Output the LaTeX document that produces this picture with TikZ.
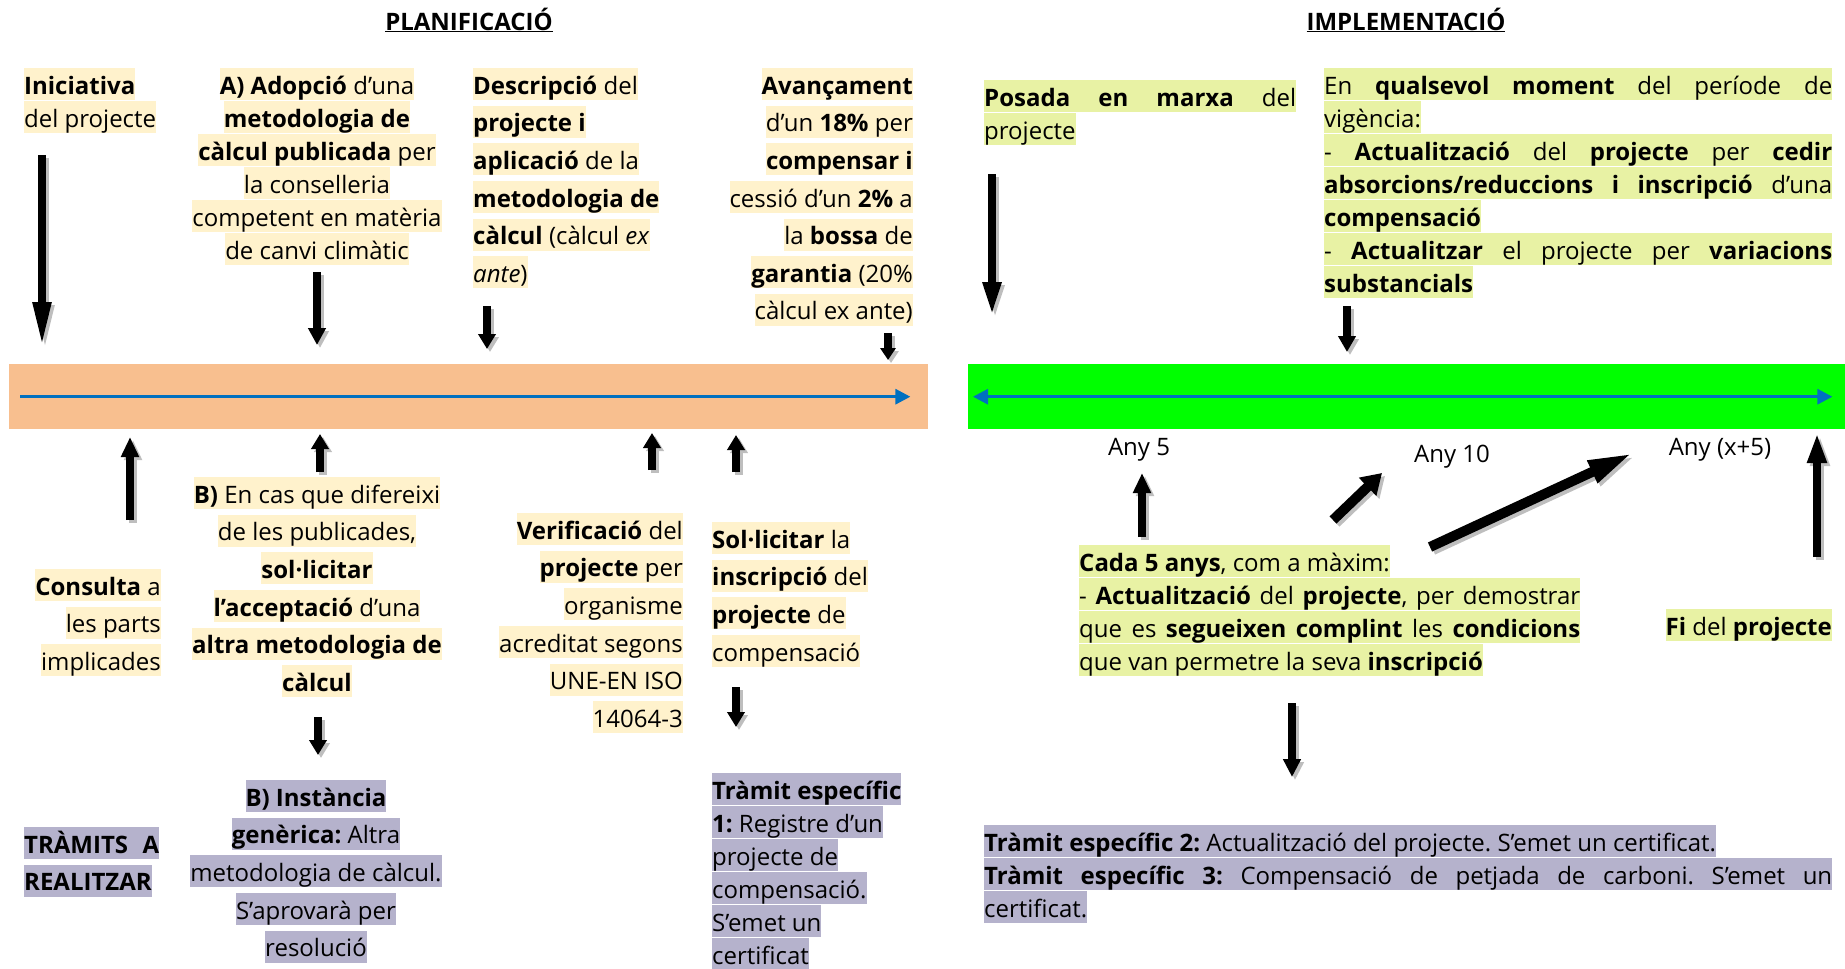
\documentclass[tikz,border=0pt]{standalone}
\usepackage{fontspec}
\setmainfont{Open Sans}
\usepackage{tikz}
\usetikzlibrary{arrows.meta,positioning}
\frenchspacing

\definecolor{hlcream}{RGB}{255,242,204}
\definecolor{hlgreen}{RGB}{232,242,164}
\definecolor{hllilac}{RGB}{181,178,204}
\definecolor{barpeach}{RGB}{248,191,143}
\definecolor{bargreen}{RGB}{0,255,0}
\definecolor{tlblue}{RGB}{0,112,192}
\definecolor{shadegray}{RGB}{190,190,190}

\newcommand{\hlx}[2]{{\setlength{\fboxsep}{0pt}\colorbox{#1}{\rule[-6pt]{0pt}{32pt}#2}}}
\newcommand{\hlc}[1]{\hlx{hlcream}{#1}}
\newcommand{\hlg}[1]{\hlx{hlgreen}{#1}}
\newcommand{\hlp}[1]{\hlx{hllilac}{#1}}
\newcommand{\just}[2]{\makebox[#1][s]{#2}}

\begin{document}
\begin{tikzpicture}[x=1pt,y=-1pt,
    every node/.style={inner sep=0pt,font=\fontsize{24}{33}\selectfont},
    wide/.style={font=\fontsize{24}{37.6}\selectfont},
    blk/.style 2 args={draw=black,line width=8pt,-{Triangle[length=#1,width=#2]},
      preaction={draw=shadegray,line width=8pt,-{Triangle[length=#1,width=#2]},
        transform canvas={shift={(3pt,-3pt)}}}},
    dgl/.style 2 args={draw=black,line width=10pt,-{Triangle[length=#1,width=#2]},
      preaction={draw=shadegray,line width=10pt,-{Triangle[length=#1,width=#2]},
        transform canvas={shift={(3pt,-3pt)}}}},
    tl/.style={draw=tlblue,line width=3pt}]
\useasboundingbox (0,0) rectangle (1845,969);

% titles
\node[anchor=base] (tplan) at (469,30) {\textbf{\underline{PLANIFICACIÓ}}};
\node[anchor=base] (timpl) at (1406,30) {\textbf{\underline{IMPLEMENTACIÓ}}};

% timelines
\node[fill=barpeach,minimum width=919pt,minimum height=65pt,anchor=north west] (plan) at (9,364) {};
\node[fill=bargreen,minimum width=877pt,minimum height=65pt,anchor=north west] (impl) at (968,364) {};
\draw[tl,-{Triangle[length=15pt,width=15pt]}] ([xshift=11pt]plan.west) -- ([xshift=-18pt]plan.east);
\draw[tl,{Triangle[length=15pt,width=15pt]}-{Triangle[length=15pt,width=15pt]}]
  ([xshift=5pt]impl.west) -- ([xshift=-13pt]impl.east);

% planificacio, above
\node[align=left,anchor=north west] (ini) at (24,68)
  {\hlc{\textbf{Iniciativa}}\\ \hlc{del projecte}};
\node[align=center,anchor=north] (adop) at (317,68)
  {\hlc{\textbf{A) Adopció} d’una}\\ \hlc{\textbf{metodologia de}}\\
   \hlc{\textbf{càlcul publicada} per}\\ \hlc{la conselleria}\\
   \hlc{competent en matèria}\\ \hlc{de canvi climàtic}};
\node[wide,align=left,anchor=north west] (desc) at (473,68)
  {\hlc{\textbf{Descripció} del}\\ \hlc{\textbf{projecte i}}\\ \hlc{\textbf{aplicació} de la}\\
   \hlc{\textbf{metodologia de}}\\ \hlc{\textbf{càlcul} (càlcul \textit{ex}}\\ \hlc{\textit{ante})}};
\node[wide,align=right,anchor=north east] (avan) at (913,68)
  {\hlc{\textbf{Avançament}}\\ \hlc{d’un \textbf{18\%} per}\\ \hlc{\textbf{compensar i}}\\
   \hlc{cessió d’un \textbf{2\%} a}\\ \hlc{la \textbf{bossa} de}\\ \hlc{\textbf{garantia} (20\%}\\
   \hlc{càlcul ex ante)}};

% planificacio, below
\node[wide,align=right,anchor=north east] (cons) at (161,569)
  {\hlc{\textbf{Consulta} a}\\ \hlc{les parts}\\ \hlc{implicades}};
\node[wide,align=center,anchor=north] (difer) at (317,477)
  {\hlc{\textbf{B)} En cas que difereixi}\\ \hlc{de les publicades,}\\ \hlc{\textbf{sol·licitar}}\\
   \hlc{\textbf{l’acceptació} d’una}\\ \hlc{\textbf{altra metodologia de}}\\ \hlc{\textbf{càlcul}}};
\node[wide,align=right,anchor=north east] (verif) at (683,513)
  {\hlc{\textbf{Verificació} del}\\ \hlc{\textbf{projecte} per}\\ \hlc{organisme}\\
   \hlc{acreditat segons}\\ \hlc{UNE-EN ISO}\\ \hlc{14064-3}};
\node[wide,align=left,anchor=north west] (sol) at (712,522)
  {\hlc{\textbf{Sol·licitar} la}\\ \hlc{\textbf{inscripció} del}\\ \hlc{\textbf{projecte} de}\\
   \hlc{compensació}};

% tramits
\node[wide,align=left,anchor=north west] (tram) at (24,827)
  {\hlp{\just{135pt}{\bfseries TRÀMITS A}}\\ \hlp{\textbf{REALITZAR}}};
\node[wide,align=center,anchor=north] (inst) at (316,780)
  {\hlp{\textbf{B) Instància}}\\ \hlp{\textbf{genèrica:} Altra}\\ \hlp{metodologia de càlcul.}\\
   \hlp{S’aprovarà per}\\ \hlp{resolució}};
\node[align=left,anchor=north west] (t1) at (712,773)
  {\hlp{\textbf{Tràmit específic}}\\ \hlp{\textbf{1:} Registre d’un}\\ \hlp{projecte de}\\
   \hlp{compensació.}\\ \hlp{S’emet un}\\ \hlp{certificat}};

% implementacio
\node[align=left,anchor=north west] (posada) at (984,80)
  {\hlg{\just{312pt}{\textbf{Posada en marxa} del}}\\ \hlg{projecte}};
\node[align=left,anchor=north west] (qual) at (1324,68)
  {\hlg{\just{508pt}{En \textbf{qualsevol moment} del període de}}\\ \hlg{vigència:}\\
   \hlg{\just{508pt}{- \textbf{Actualització} del \textbf{projecte} per \textbf{cedir}}}\\
   \hlg{\just{508pt}{\textbf{absorcions/reduccions i inscripció} d’una}}\\
   \hlg{\textbf{compensació}}\\
   \hlg{\just{508pt}{- \textbf{Actualitzar} el projecte per \textbf{variacions}}}\\
   \hlg{\textbf{substancials}}};
\node[anchor=base] (any5) at (1139,455) {Any 5};
\node[anchor=base] (any10) at (1452,462) {Any 10};
\node[anchor=base] (anyx) at (1720,455) {Any (x+5)};
\node[align=left,anchor=north west] (cada) at (1079,545)
  {\hlg{\textbf{Cada 5 anys}, com a màxim:}\\
   \hlg{\just{501pt}{- \textbf{Actualització} del \textbf{projecte}, per demostrar}}\\
   \hlg{\just{501pt}{que es \textbf{segueixen complint} les \textbf{condicions}}}\\
   \hlg{que van permetre la seva \textbf{inscripció}}};
\node[anchor=north east] (fi) at (1832,609) {\hlg{\textbf{Fi} del \textbf{projecte}}};
\node[align=left,anchor=north west] (t23) at (984,825)
  {\hlp{\textbf{Tràmit específic 2:} Actualització del projecte. S’emet un certificat.}\\
   \hlp{\just{848pt}{\textbf{Tràmit específic 3:} Compensació de petjada de carboni. S’emet un}}\\
   \hlp{certificat.}};

% arrow ends
\coordinate (ini-s) at (42,155);    \coordinate (ini-e) at (42,347);
\coordinate (adop-s) at (317,272);  \coordinate (adop-e) at (317,345);
\coordinate (desc-s) at (487,306);  \coordinate (desc-e) at (487,349);
\coordinate (avan-s) at (888,333);  \coordinate (avan-e) at (888,360);
\coordinate (cons-s) at (130,520);  \coordinate (cons-e) at (130,437);
\coordinate (difer-s) at (320,472); \coordinate (difer-e) at (320,434);
\coordinate (verif-s) at (652,470); \coordinate (verif-e) at (652,433);
\coordinate (sol-s) at (736,472);   \coordinate (sol-e) at (736,435);
\coordinate (inst-s) at (318,717);  \coordinate (inst-e) at (318,755);
\coordinate (t1-s) at (736,687);    \coordinate (t1-e) at (736,727);
\coordinate (pos-s) at (992,174);   \coordinate (pos-e) at (992,316);
\coordinate (qual-s) at (1347,306); \coordinate (qual-e) at (1347,352);
\coordinate (y5-s) at (1142,537);   \coordinate (y5-e) at (1142,473);
\coordinate (y10-s) at (1333,520);  \coordinate (y10-e) at (1382,473);
\coordinate (yx-s) at (1430,547);   \coordinate (yx-e) at (1633,453);
\coordinate (fi-s) at (1817,557);   \coordinate (fi-e) at (1817,433);
\coordinate (t23-s) at (1292,703);  \coordinate (t23-e) at (1292,777);

% arrows
\draw[blk={45pt}{17pt}] (ini-s) -- (ini-e);
\draw[blk={17pt}{17pt}] (adop-s) -- (adop-e);
\draw[blk={15pt}{17pt}] (desc-s) -- (desc-e);
\draw[blk={12pt}{15pt}] (avan-s) -- (avan-e);
\draw[blk={20pt}{17pt}] (cons-s) -- (cons-e);
\draw[blk={15pt}{17pt}] (difer-s) -- (difer-e);
\draw[blk={15pt}{17pt}] (verif-s) -- (verif-e);
\draw[blk={15pt}{17pt}] (sol-s) -- (sol-e);
\draw[blk={15pt}{17pt}] (inst-s) -- (inst-e);
\draw[blk={15pt}{17pt}] (t1-s) -- (t1-e);
\draw[blk={34pt}{17pt}] (pos-s) -- (pos-e);
\draw[blk={16pt}{17pt}] (qual-s) -- (qual-e);
\draw[blk={20pt}{17pt}] (y5-s) -- (y5-e);
\draw[dgl={20pt}{24pt}] (y10-s) -- (y10-e);
\draw[dgl={45pt}{22pt}] (yx-s) -- (yx-e);
\draw[blk={30pt}{18pt}] (fi-s) -- (fi-e);
\draw[blk={18pt}{17pt}] (t23-s) -- (t23-e);
\end{tikzpicture}
\end{document}
